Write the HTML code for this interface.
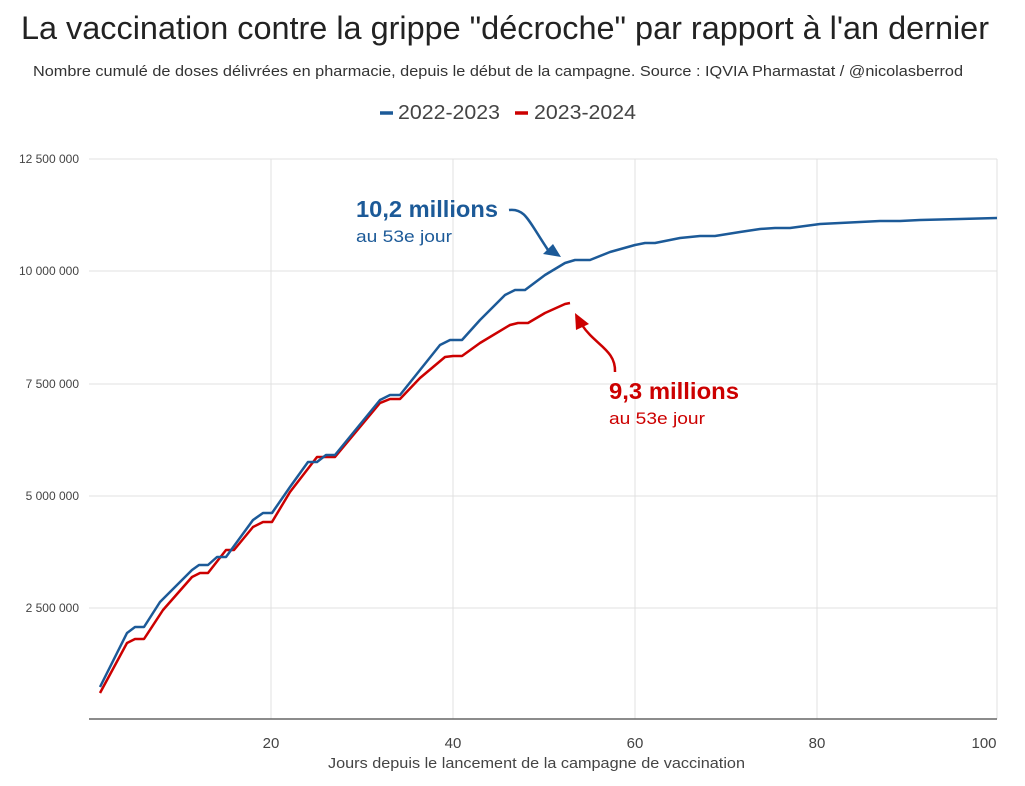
<!DOCTYPE html>
<html><head><meta charset="utf-8"><style>
body{margin:0;background:#fff;width:1025px;height:781px;overflow:hidden;font-family:"Liberation Sans",Arial,sans-serif}
</style></head><body>
<svg width="1025" height="781" xmlns="http://www.w3.org/2000/svg" font-family="Liberation Sans, Arial, sans-serif">
<text x="21" y="39" font-size="32.4" fill="#222" textLength="968" lengthAdjust="spacingAndGlyphs">La vaccination contre la grippe "décroche" par rapport à l'an dernier</text>
<text x="33" y="76" font-size="14.5" fill="#333" textLength="930" lengthAdjust="spacingAndGlyphs">Nombre cumulé de doses délivrées en pharmacie, depuis le début de la campagne. Source : IQVIA Pharmastat / @nicolasberrod</text>
<line x1="380" y1="113" x2="393" y2="113" stroke="#1c5a98" stroke-width="3.5"/>
<text x="398" y="119" font-size="20.5" fill="#444" textLength="102" lengthAdjust="spacingAndGlyphs">2022-2023</text>
<line x1="515" y1="113" x2="528" y2="113" stroke="#cc0000" stroke-width="3.5"/>
<text x="534" y="119" font-size="20.5" fill="#444" textLength="102" lengthAdjust="spacingAndGlyphs">2023-2024</text>
<g stroke="#e0e0e0" stroke-width="1">
<line x1="89" y1="159" x2="997" y2="159"/><line x1="89" y1="271" x2="997" y2="271"/><line x1="89" y1="384" x2="997" y2="384"/><line x1="89" y1="496" x2="997" y2="496"/><line x1="89" y1="608" x2="997" y2="608"/>
<line x1="271" y1="159" x2="271" y2="719"/><line x1="453" y1="159" x2="453" y2="719"/><line x1="635" y1="159" x2="635" y2="719"/><line x1="817" y1="159" x2="817" y2="719"/><line x1="997" y1="159" x2="997" y2="719"/>
</g>
<line x1="89" y1="719" x2="997" y2="719" stroke="#666" stroke-width="1.5"/>
<g font-size="12" fill="#444" text-anchor="end">
<text x="79" y="163">12 500 000</text><text x="79" y="275">10 000 000</text><text x="79" y="388">7 500 000</text><text x="79" y="500">5 000 000</text><text x="79" y="612">2 500 000</text>
</g>
<g font-size="15" fill="#444" text-anchor="middle">
<text x="271" y="748">20</text><text x="453" y="748">40</text><text x="635" y="748">60</text><text x="817" y="748">80</text><text x="984" y="748">100</text>
</g>
<text x="328" y="768" font-size="15" fill="#444" textLength="417" lengthAdjust="spacingAndGlyphs">Jours depuis le lancement de la campagne de vaccination</text>
<polyline fill="none" stroke="#cc0000" stroke-width="2.5" stroke-linejoin="round" points="100,693 127,643 135,639 144,639 163,610 192,577 200,573 208,573 226,550 234,550 253,527 263,522 272,522 290,492 317,457 335,457 380,403 390,399 400,399 420,378 445,357 453,356 462,356 480,343 510,325 518,323 528,323 545,313 565,304 570,303"/>
<polyline fill="none" stroke="#1c5a98" stroke-width="2.5" stroke-linejoin="round" points="100,687 127,633 135,627 144,627 160,602 177,585 192,570 199,565 208,565 217,557 226,557 253,520 263,513 272,513 290,487 308,462 317,462 326,455 335,455 380,400 390,395 400,395 420,370 440,345 450,340 462,340 480,320 505,295 515,290 525,290 545,275 565,263 575,260 590,260 610,252 635,245 645,243 655,243 680,238 700,236 715,236 740,232 760,229 775,228 790,228 820,224 840,223 860,222 880,221 900,221 920,220 960,219 997,218"/>
<text x="356" y="217" font-size="23" font-weight="bold" fill="#1c5a98" textLength="142" lengthAdjust="spacingAndGlyphs">10,2 millions</text>
<text x="356" y="242" font-size="17" fill="#1c5a98" textLength="96" lengthAdjust="spacingAndGlyphs">au 53e jour</text>
<path d="M509,210 C525,208 528,220 548,250" fill="none" stroke="#1c5a98" stroke-width="2.5"/>
<polygon points="561,257 543,254 553,244" fill="#1c5a98"/>
<text x="609" y="399" font-size="23" font-weight="bold" fill="#cc0000" textLength="130" lengthAdjust="spacingAndGlyphs">9,3 millions</text>
<text x="609" y="424" font-size="17" fill="#cc0000" textLength="96" lengthAdjust="spacingAndGlyphs">au 53e jour</text>
<path d="M615,372 C616,350 595,345 582,325" fill="none" stroke="#cc0000" stroke-width="2.5"/>
<polygon points="575,313 576,330 589,324" fill="#cc0000"/>
</svg>
</body></html>
